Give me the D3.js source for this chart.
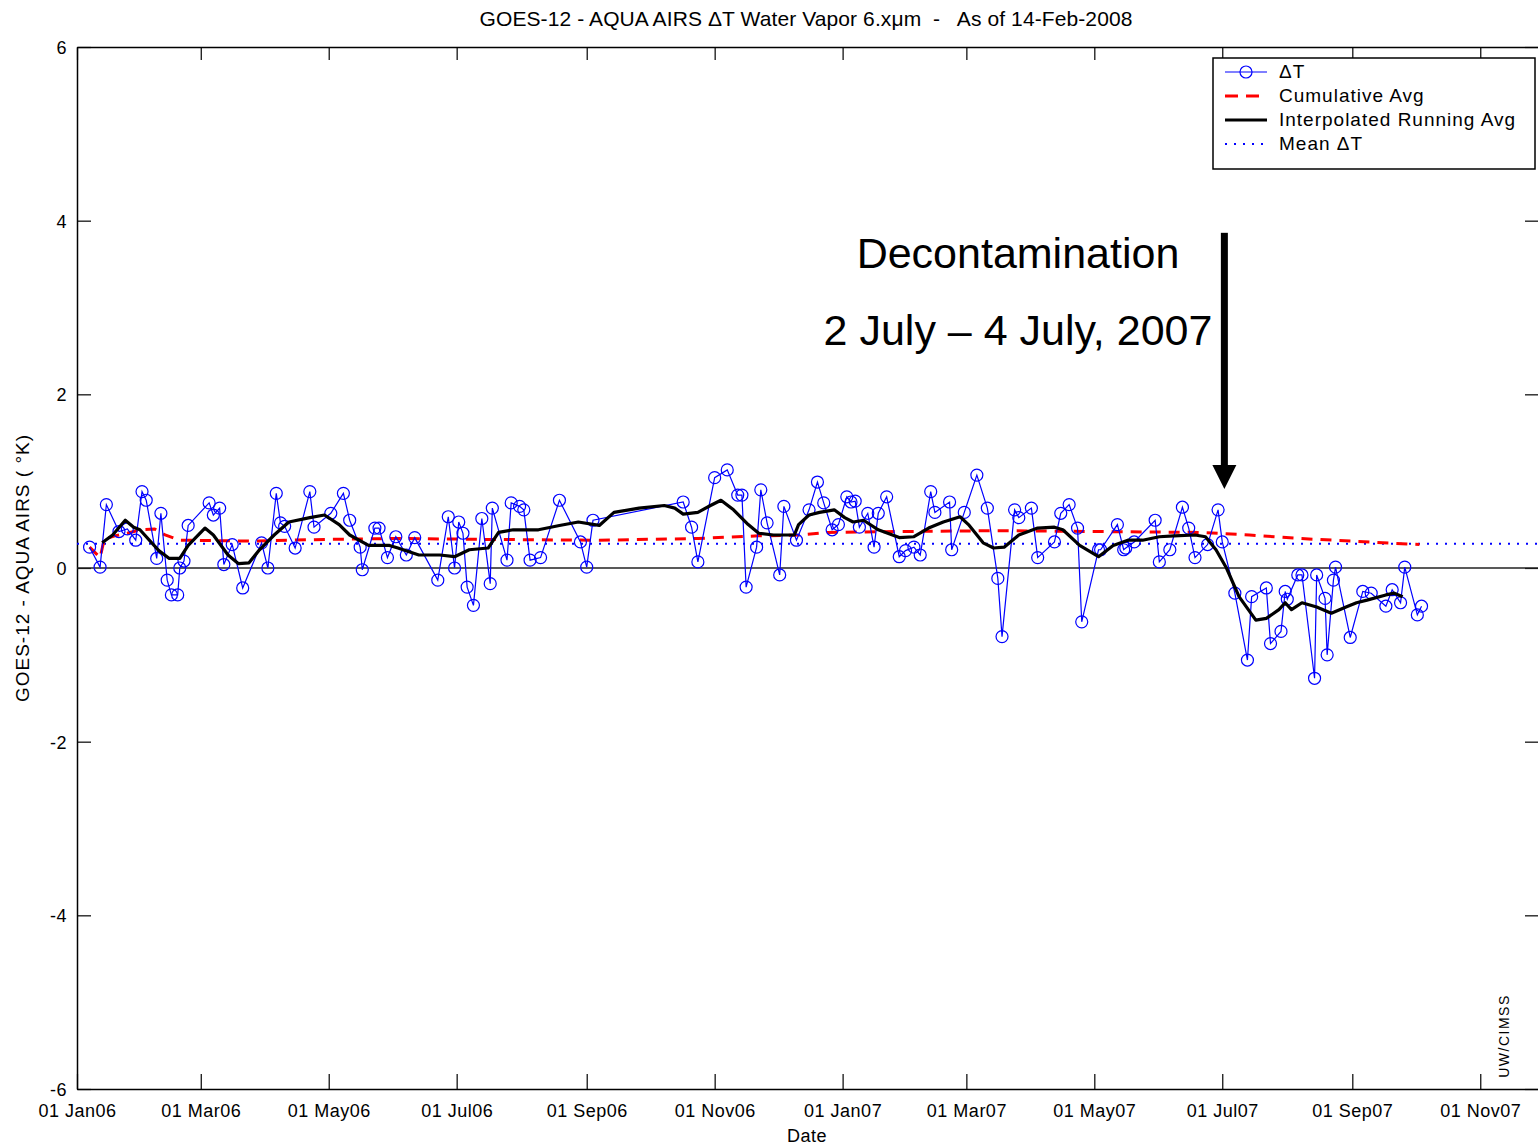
<!DOCTYPE html>
<html><head><meta charset="utf-8">
<script src="https://cdn.jsdelivr.net/npm/d3@7"></script>
<style>
body{margin:0;background:#fff}
svg{display:block}
text{font-family:"Liberation Sans",Arial,Helvetica,sans-serif;fill:#000}
</style>
</head><body>
<svg id="c" width="1538" height="1145"></svg>
<script>
// ---------------- DATA ----------------
const titleText = "GOES-12 - AQUA AIRS \u0394T Water Vapor 6.x\u03bcm  -   As of 14-Feb-2008";
const yLabelText = "GOES-12 - AQUA AIRS ( \u00b0K)";
const xLabelText = "Date";
const creditText = "UW/CIMSS";
const yTicks = [-6, -4, -2, 0, 2, 4, 6];
const xDomain = ["2006-01-01", "2007-11-29"];
const legendLabels = ["\u0394T", "Cumulative Avg", "Interpolated Running Avg", "Mean \u0394T"];
const annotationLines = ["Decontamination", "2 July \u2013 4 July, 2007"];
const arrowDate = "2007-07-02";
const arrowRange = [3.86, 0.91];

const dtDates = [
"2006-01-07","2006-01-12","2006-01-15","2006-01-21","2006-01-25","2006-01-29","2006-02-01","2006-02-03",
"2006-02-08","2006-02-10","2006-02-13","2006-02-15","2006-02-18","2006-02-19","2006-02-21","2006-02-23",
"2006-03-05","2006-03-07","2006-03-10","2006-03-12","2006-03-16","2006-03-21","2006-03-30","2006-04-02",
"2006-04-06","2006-04-08","2006-04-10","2006-04-15","2006-04-22","2006-04-24","2006-05-02","2006-05-08",
"2006-05-11","2006-05-16","2006-05-17","2006-05-23","2006-05-25","2006-05-29","2006-06-02","2006-06-07",
"2006-06-11","2006-06-22","2006-06-27","2006-06-30","2006-07-02","2006-07-04","2006-07-06","2006-07-09",
"2006-07-13","2006-07-17","2006-07-18","2006-07-25","2006-07-27","2006-07-31","2006-08-02","2006-08-05",
"2006-08-10","2006-08-19","2006-08-29","2006-09-01","2006-09-04","2006-10-17","2006-10-21","2006-10-24",
"2006-11-01","2006-11-07","2006-11-12","2006-11-14","2006-11-16","2006-11-21","2006-11-23","2006-11-26",
"2006-12-02","2006-12-04","2006-12-10","2006-12-16","2006-12-20","2006-12-23","2006-12-27","2006-12-30",
"2007-01-03","2007-01-05","2007-01-07","2007-01-09","2007-01-13","2007-01-16","2007-01-18","2007-01-22",
"2007-01-28","2007-01-31","2007-02-04","2007-02-07","2007-02-12","2007-02-14","2007-02-21","2007-02-22",
"2007-02-28","2007-03-06","2007-03-11","2007-03-16","2007-03-18","2007-03-24","2007-03-26","2007-04-01",
"2007-04-04","2007-04-12","2007-04-15","2007-04-19","2007-04-23","2007-04-25","2007-05-03","2007-05-04",
"2007-05-12","2007-05-15","2007-05-16","2007-05-20","2007-05-30","2007-06-01","2007-06-06","2007-06-12",
"2007-06-15","2007-06-18","2007-06-24","2007-06-29","2007-07-01","2007-07-07","2007-07-13","2007-07-15",
"2007-07-22","2007-07-24","2007-07-29","2007-07-31","2007-08-01","2007-08-06","2007-08-08","2007-08-14",
"2007-08-15","2007-08-19","2007-08-20","2007-08-23","2007-08-24","2007-08-31","2007-09-06","2007-09-10",
"2007-09-17","2007-09-20","2007-09-24","2007-09-26","2007-10-02","2007-10-04"];
const dtValues = [
0.24,0.01,0.73,0.42,0.45,0.32,0.88,0.78,
0.11,0.63,-0.14,-0.31,-0.31,0.00,0.08,0.49,
0.75,0.61,0.69,0.04,0.27,-0.23,0.29,0.00,
0.86,0.52,0.48,0.23,0.88,0.47,0.63,0.86,
0.55,0.24,-0.02,0.46,0.46,0.12,0.36,0.15,
0.35,-0.14,0.59,0.00,0.53,0.40,-0.22,-0.43,
0.57,-0.18,0.69,0.09,0.75,0.71,0.67,0.09,
0.12,0.78,0.30,0.01,0.55,0.76,0.47,0.07,
1.04,1.13,0.84,0.84,-0.22,0.24,0.90,0.52,
-0.08,0.71,0.32,0.67,0.99,0.75,0.44,0.50,
0.82,0.76,0.77,0.47,0.63,0.24,0.63,0.82,
0.13,0.20,0.24,0.15,0.88,0.64,0.76,0.21,
0.64,1.07,0.69,-0.12,-0.79,0.67,0.58,0.69,
0.12,0.30,0.63,0.73,0.46,-0.62,0.21,0.21,
0.50,0.21,0.23,0.30,0.55,0.07,0.21,0.70,
0.46,0.12,0.27,0.67,0.30,-0.29,-1.06,-0.33,
-0.23,-0.87,-0.73,-0.27,-0.36,-0.08,-0.08,-1.27,
-0.08,-0.35,-1.00,-0.14,0.01,-0.80,-0.27,-0.29,
-0.44,-0.25,-0.40,0.01,-0.54,-0.44];

const cumDates = ["2006-01-07","2006-01-12","2006-01-14","2006-01-19","2006-01-25","2006-01-31","2006-02-07",
"2006-02-12","2006-02-19","2006-03-24","2006-05-01","2006-06-03","2006-07-12","2006-09-07","2006-10-24",
"2006-11-22","2006-12-11","2006-12-25","2007-01-28","2007-03-16","2007-05-03","2007-06-20","2007-07-14",
"2007-08-07","2007-08-31","2007-10-03"];
const cumValues = [0.24,0.12,0.33,0.37,0.40,0.44,0.45,
0.38,0.32,0.31,0.33,0.34,0.33,0.32,0.34,
0.37,0.38,0.41,0.42,0.43,0.42,0.41,0.38,
0.34,0.31,0.27];

const runDates = ["2006-01-13","2006-01-18","2006-01-24","2006-01-28","2006-01-31","2006-02-09","2006-02-14",
"2006-02-19","2006-02-23","2006-03-03","2006-03-07","2006-03-14","2006-03-19","2006-03-24","2006-03-29",
"2006-04-05","2006-04-12","2006-04-22","2006-04-29","2006-05-06","2006-05-11","2006-05-20","2006-05-30",
"2006-06-03","2006-06-13","2006-06-23","2006-06-30","2006-07-07","2006-07-16","2006-07-21","2006-07-28",
"2006-08-09","2006-08-19","2006-08-28","2006-09-07","2006-09-14","2006-09-26","2006-10-08","2006-10-13",
"2006-10-17","2006-10-24","2006-10-30","2006-11-04","2006-11-10","2006-11-17","2006-11-22","2006-11-29",
"2006-12-09","2006-12-11","2006-12-16","2006-12-21","2006-12-28","2007-01-02","2007-01-06","2007-01-11",
"2007-01-18","2007-01-28","2007-02-04","2007-02-11","2007-02-18","2007-02-26","2007-03-02","2007-03-09",
"2007-03-14","2007-03-19","2007-03-26","2007-04-04","2007-04-12","2007-04-16","2007-04-24","2007-05-03",
"2007-05-10","2007-05-17","2007-05-24","2007-06-01","2007-06-08","2007-06-18","2007-06-23","2007-06-28",
"2007-07-03","2007-07-09","2007-07-17","2007-07-22","2007-07-28","2007-07-31","2007-08-03","2007-08-08",
"2007-08-15","2007-08-22","2007-08-29","2007-09-03","2007-09-08","2007-09-17","2007-09-21","2007-09-25"];
const runValues = [0.29,0.38,0.55,0.47,0.44,0.20,0.11,
0.11,0.26,0.46,0.38,0.15,0.05,0.06,0.21,
0.38,0.53,0.58,0.61,0.50,0.38,0.26,0.26,
0.23,0.15,0.15,0.13,0.21,0.23,0.41,0.44,
0.44,0.49,0.53,0.49,0.64,0.69,0.72,0.69,
0.62,0.64,0.72,0.78,0.67,0.50,0.40,0.38,
0.38,0.50,0.61,0.64,0.67,0.58,0.53,0.55,
0.44,0.35,0.36,0.46,0.53,0.59,0.50,0.29,
0.23,0.24,0.38,0.46,0.47,0.44,0.26,0.13,
0.26,0.32,0.32,0.36,0.37,0.38,0.36,0.21,
0.00,-0.33,-0.60,-0.58,-0.48,-0.40,-0.48,-0.40,
-0.45,-0.52,-0.45,-0.40,-0.37,-0.31,-0.29,-0.33];

const meanDT = 0.28;

// ---------------- CHART ----------------
(function () {
const parse = d3.utcParse("%Y-%m-%d");
const pL = 77, pR = 1539, pT = 47, pB = 1089;
const svg = d3.select("#c");

const x = d3.scaleUtc().domain(xDomain.map(parse)).range([pL, pR]);
const y = d3.scaleLinear().domain([-6, 6]).range([pB, pT]);

const dt = dtDates.map((d, i) => ({d: parse(d), v: dtValues[i]}));
const cum = cumDates.map((d, i) => ({d: parse(d), v: cumValues[i]}));
const run = runDates.map((d, i) => ({d: parse(d), v: runValues[i]}));

const fmt = d3.utcFormat("%d %b%y");
const xTickVals = d3.utcMonth.every(2).range(parse("2006-01-01"), parse("2007-11-02"));

const axB = svg.append("g").attr("transform", `translate(0,${pB})`)
  .call(d3.axisBottom(x).tickValues(xTickVals).tickFormat(fmt).tickSizeInner(-15).tickSizeOuter(0).tickPadding(26));
const axT = svg.append("g").attr("transform", `translate(0,${pT})`)
  .call(d3.axisTop(x).tickValues(xTickVals).tickFormat("").tickSizeInner(-13).tickSizeOuter(0));
const axL = svg.append("g").attr("transform", `translate(${pL},0)`)
  .call(d3.axisLeft(y).tickValues(yTicks).tickFormat(d => String(d)).tickSizeInner(-14).tickSizeOuter(0).tickPadding(10));
const axR = svg.append("g").attr("transform", `translate(${pR},0)`)
  .call(d3.axisRight(y).tickValues(yTicks).tickFormat("").tickSizeInner(-14).tickSizeOuter(0));
[axB, axT, axL, axR].forEach(g => {
  g.selectAll(".domain").attr("stroke", "#000").attr("stroke-width", 1.5);
  g.selectAll(".tick line").attr("stroke", "#000").attr("stroke-width", 1.2);
  g.selectAll(".tick text").attr("font-size", 18).attr("fill", "#000")
    .attr("font-family", '"Liberation Sans",Arial,sans-serif');
});
axB.selectAll(".tick text").attr("dy", "0.1em").style("letter-spacing", "0.5px");
axL.selectAll(".tick text").attr("dy", "0.36em").style("letter-spacing", "0.5px");

svg.append("line").attr("x1", pL).attr("x2", pR).attr("y1", y(0)).attr("y2", y(0))
  .attr("stroke", "#222").attr("stroke-width", 1.6);

svg.append("line").attr("x1", pL).attr("x2", pR).attr("y1", y(meanDT)).attr("y2", y(meanDT))
  .attr("stroke", "#0000ff").attr("stroke-width", 2).attr("stroke-dasharray", "2,7");

const line = d3.line().x(p => x(p.d)).y(p => y(p.v));
svg.append("path").datum(cum).attr("d", line).attr("fill", "none")
  .attr("stroke", "#ff0000").attr("stroke-width", 3).attr("stroke-dasharray", "11,8");

svg.append("path").datum(dt).attr("d", line).attr("fill", "none")
  .attr("stroke", "#0000ff").attr("stroke-width", 1.2);
svg.append("g").selectAll("circle").data(dt).join("circle")
  .attr("cx", p => x(p.d)).attr("cy", p => y(p.v)).attr("r", 6)
  .attr("fill", "none").attr("stroke", "#0000ff").attr("stroke-width", 1.2);

svg.append("path").datum(run).attr("d", line).attr("fill", "none")
  .attr("stroke", "#000").attr("stroke-width", 3.2).attr("stroke-linejoin", "round");

svg.append("text").attr("x", 806).attr("y", 26).attr("text-anchor", "middle")
  .attr("font-size", 21).style("letter-spacing", "0.1px").style("white-space", "pre")
  .text(titleText);
svg.append("text").attr("transform", `translate(29,${y(0)}) rotate(-90)`).attr("text-anchor", "middle")
  .attr("font-size", 19).style("letter-spacing", "1px").style("white-space", "pre").text(yLabelText);
svg.append("text").attr("x", 807).attr("y", 1142).attr("text-anchor", "middle")
  .attr("font-size", 18).style("letter-spacing", "0.5px").text(xLabelText);
svg.append("text").attr("transform", "translate(1509,1036) rotate(-90)").attr("text-anchor", "middle")
  .attr("font-size", 14).style("letter-spacing", "1.5px").text(creditText);

const ax = x(parse(arrowDate));
svg.append("text").attr("x", 1018).attr("y", 268).attr("text-anchor", "middle")
  .attr("font-size", 43).text(annotationLines[0]);
svg.append("text").attr("x", 1018).attr("y", 345).attr("text-anchor", "middle")
  .attr("font-size", 43).text(annotationLines[1]);
const yA0 = y(arrowRange[0]), yA1 = y(arrowRange[1]);
svg.append("rect").attr("x", ax - 3.5).attr("y", yA0).attr("width", 7).attr("height", (yA1 - 23) - yA0).attr("fill", "#000");
svg.append("path").attr("d", `M${ax - 12},${yA1 - 24} L${ax + 12},${yA1 - 24} L${ax},${yA1} Z`).attr("fill", "#000");

const lg = svg.append("g").attr("transform", "translate(1213,58)");
lg.append("rect").attr("width", 322).attr("height", 111).attr("fill", "#fff").attr("stroke", "#000").attr("stroke-width", 1.5);
const rowY = i => 14 + i * 24;
lg.append("line").attr("x1", 12).attr("x2", 54).attr("y1", rowY(0)).attr("y2", rowY(0)).attr("stroke", "#0000ff").attr("stroke-width", 1.2);
lg.append("circle").attr("cx", 33).attr("cy", rowY(0)).attr("r", 6).attr("fill", "none").attr("stroke", "#0000ff").attr("stroke-width", 1.2);
lg.append("line").attr("x1", 12).attr("x2", 54).attr("y1", rowY(1)).attr("y2", rowY(1)).attr("stroke", "#ff0000").attr("stroke-width", 3).attr("stroke-dasharray", "13,8");
lg.append("line").attr("x1", 12).attr("x2", 54).attr("y1", rowY(2)).attr("y2", rowY(2)).attr("stroke", "#000").attr("stroke-width", 3);
lg.append("line").attr("x1", 12).attr("x2", 54).attr("y1", rowY(3)).attr("y2", rowY(3)).attr("stroke", "#0000ff").attr("stroke-width", 2).attr("stroke-dasharray", "2,7");
legendLabels.forEach((t, i) => {
  lg.append("text").attr("x", 66).attr("y", rowY(i) + 6).attr("font-size", 19).style("letter-spacing", "1px").text(t);
});
})();
</script>
</body></html>
